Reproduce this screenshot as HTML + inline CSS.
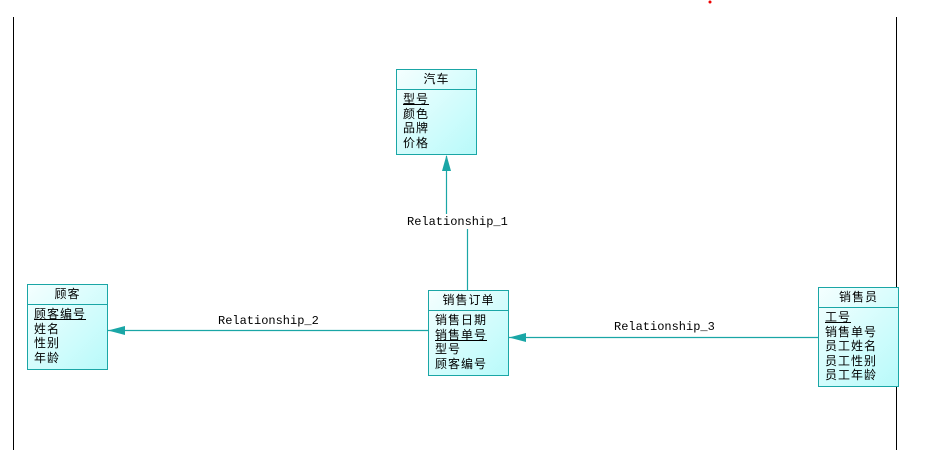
<!DOCTYPE html>
<html><head><meta charset="utf-8"><style>
html,body{margin:0;padding:0;background:#fff;width:947px;height:450px;overflow:hidden;position:relative}
.box{position:absolute;border:1px solid #1aa6a6;background:linear-gradient(135deg,#f4ffff,#b8fafa);font-family:"Liberation Sans","WenQuanYi Zen Hei","Noto Sans CJK SC",sans-serif;font-size:12px;color:#000;box-sizing:border-box}
.hd{text-align:center;border-bottom:1px solid #1aa6a6;height:19px;line-height:19px;letter-spacing:1px}
.rows{padding:2px 0 0 6px;line-height:14.5px;letter-spacing:1px}
.u{text-decoration:underline}
.lbl{position:absolute;font-family:"Liberation Mono",monospace;font-size:12px;background:#fff;line-height:14px}
</style></head><body>
<svg width="947" height="450" style="position:absolute;left:0;top:0">
<circle cx="710" cy="2" r="1.5" fill="#e00"/>
<line x1="13.5" y1="17" x2="13.5" y2="450" stroke="#000" stroke-width="1"/>
<line x1="896.5" y1="17" x2="896.5" y2="450" stroke="#000" stroke-width="1"/>
<g stroke="#1aa6a6" stroke-width="1.2" fill="none">
<line x1="446.5" y1="156" x2="446.5" y2="214"/>
<line x1="467.5" y1="229" x2="467.5" y2="290"/>
<line x1="108" y1="330.5" x2="428" y2="330.5"/>
<line x1="509" y1="337.5" x2="818" y2="337.5"/>
</g>
<g fill="#1aa6a6">
<polygon points="446.5,155 442,171 451,171"/>
<polygon points="108,330.5 125,326 125,335"/>
<polygon points="509,337.5 526,333 526,342"/>
</g>
</svg>
<div class="lbl" style="left:407px;top:215px">Relationship_1</div>
<div class="lbl" style="left:218px;top:314px">Relationship_2</div>
<div class="lbl" style="left:614px;top:320px">Relationship_3</div>
<div class="box" style="left:396px;top:69px;width:81px;height:86px"><div class="hd">汽车</div><div class="rows"><span class="u">型号</span><br>颜色<br>品牌<br>价格</div></div>
<div class="box" style="left:428px;top:290px;width:81px;height:86px"><div class="hd">销售订单</div><div class="rows">销售日期<br><span class="u">销售单号</span><br>型号<br>顾客编号</div></div>
<div class="box" style="left:27px;top:284px;width:81px;height:86px"><div class="hd">顾客</div><div class="rows"><span class="u">顾客编号</span><br>姓名<br>性别<br>年龄</div></div>
<div class="box" style="left:818px;top:287px;width:81px;height:100px"><div class="hd">销售员</div><div class="rows"><span class="u">工号</span><br>销售单号<br>员工姓名<br>员工性别<br>员工年龄</div></div>
</body></html>
